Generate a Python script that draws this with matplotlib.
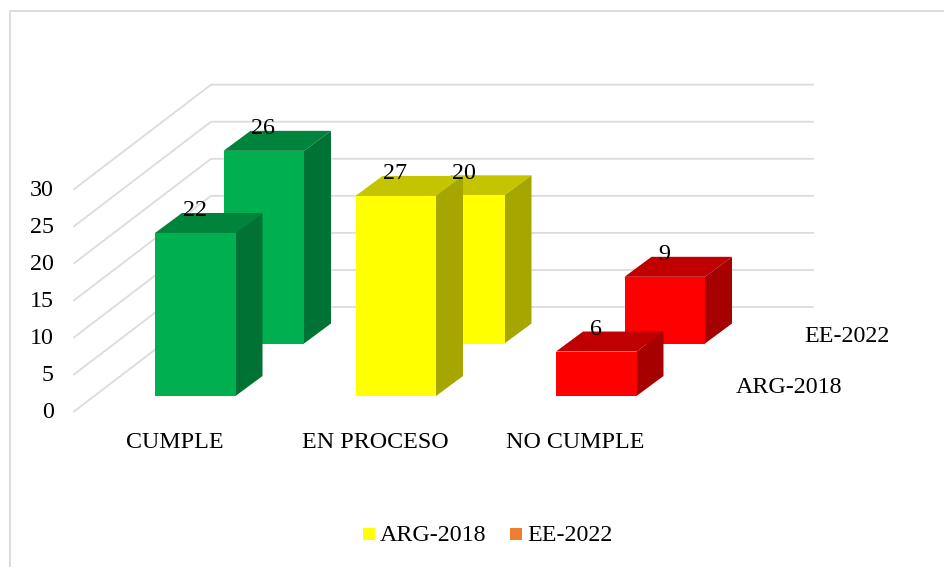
import matplotlib
matplotlib.use("Agg")
import matplotlib.pyplot as plt
from matplotlib.patches import Polygon, Rectangle

categories = ["CUMPLE", "EN PROCESO", "NO CUMPLE"]
series_names = ["ARG-2018", "EE-2022"]
arg_2018 = [22, 27, 6]
ee_2022 = [26, 20, 9]
y_ticks = [0, 5, 10, 15, 20, 25, 30]

face_colors = ["#00B050", "#FFFF00", "#FF0000"]
top_colors = ["#00843C", "#C4C400", "#C00000"]
side_colors = ["#007234", "#A6A600", "#A60000"]
legend_colors = ["#FFFF00", "#ED7D31"]
grid_color = "#DCDCDC"

PX = 7.41
plt.rcParams["font.family"] = ["Liberation Serif", "DejaVu Serif"]
FS = 17.3

fig = plt.figure(figsize=(9.45, 5.67), dpi=100)
ax = fig.add_axes([0, 0, 1, 1])
ax.set_xlim(0, 945)
ax.set_ylim(567, 0)
ax.axis("off")

# chart frame
ax.plot([9.5, 9.5, 945], [567, 11, 11], color=grid_color, lw=1.4, zorder=1)

# walls
for v in y_ticks:
    y_front = 411.5 - v * PX
    y_back = 307 - v * PX
    ax.plot([74, 211, 813], [y_front, y_back, y_back], color=grid_color, lw=1.3, zorder=1)
    ax.text(54, y_front + 1, str(v), ha="right", va="center", fontsize=FS, color="black", zorder=5)


def bar(x, base, value, i, z):
    w, dx, dy = 80.5, 27, -20
    top = base - value * PX
    ax.add_patch(Polygon([(x, top), (x + w, top), (x + w + dx, top + dy), (x + dx, top + dy)],
                         closed=True, fc=top_colors[i], ec="none", zorder=z))
    ax.add_patch(Polygon([(x + w, top), (x + w + dx, top + dy), (x + w + dx, base + dy), (x + w, base)],
                         closed=True, fc=side_colors[i], ec="none", zorder=z))
    ax.add_patch(Rectangle((x, top), w, value * PX, fc=face_colors[i], ec="none", zorder=z))
    ax.text(x + w / 2 - 0.5, top - 22, str(value), ha="center", va="center", fontsize=FS,
            color="black", zorder=6)


for i, v in enumerate(ee_2022):
    bar(223.5 + i * 200.5, 343.5, v, i, 2)
for i, v in enumerate(arg_2018):
    bar(155 + i * 200.5, 396, v, i, 3)

# category labels
for i, c in enumerate(categories):
    ax.text(175 + i * 200.2, 443, c, ha="center", va="center", fontsize=FS, color="black")

# depth axis labels
ax.text(736, 387.5, series_names[0], ha="left", va="center", fontsize=FS, color="black")
ax.text(804, 336.5, series_names[1], ha="left", va="center", fontsize=FS, color="black")

# legend
ax.add_patch(Rectangle((363, 528), 12, 12, fc=legend_colors[0], ec="none"))
ax.text(380, 535.5, series_names[0], ha="left", va="center", fontsize=FS, color="black")
ax.add_patch(Rectangle((510, 528), 12, 12, fc=legend_colors[1], ec="none"))
ax.text(527, 535.5, series_names[1], ha="left", va="center", fontsize=FS, color="black")

fig.savefig("out.png", dpi=100)
